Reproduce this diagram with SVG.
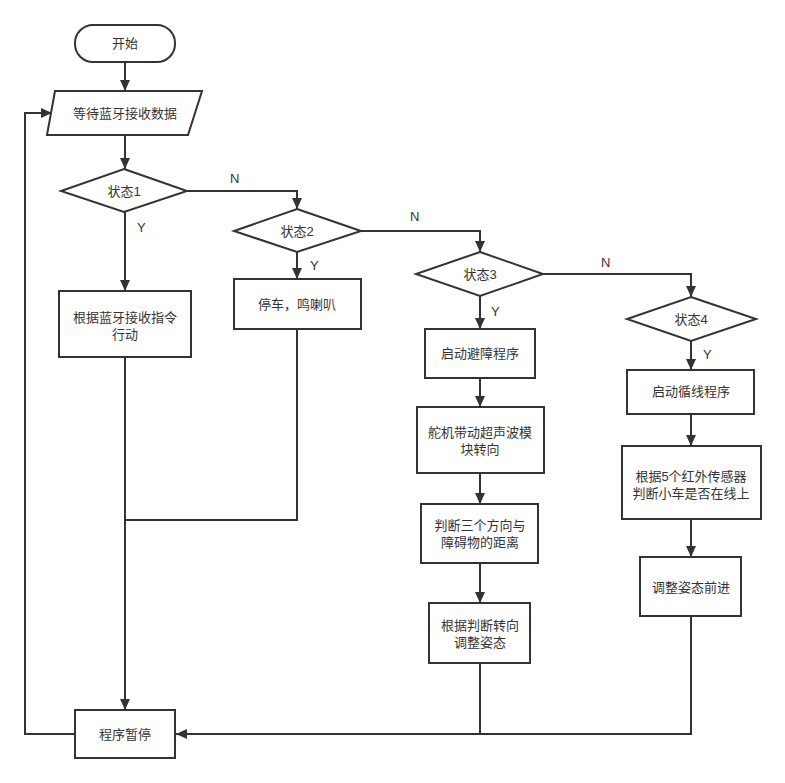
<svg xmlns="http://www.w3.org/2000/svg" width="785" height="783" viewBox="0 0 785 783">
<defs>
<marker id="arr" markerUnits="userSpaceOnUse" markerWidth="11" markerHeight="10" refX="11" refY="5" orient="auto">
<path d="M0,0 L11,5 L0,10 Z" fill="#333"/>
</marker>
<style>
.s{fill:#fff;stroke:#333;stroke-width:2}
.c{fill:none;stroke:#333;stroke-width:2}
.t{font-family:"Liberation Sans","Noto Sans CJK SC",sans-serif;font-size:13px;fill:#333;text-anchor:middle}
.l{font-family:"Liberation Sans","Noto Sans CJK SC",sans-serif;font-size:13px;fill:#333}
</style>
</defs>
<rect width="785" height="783" fill="#fff"/>
<g id="connectors">
<path class="c" d="M125,62 V91" marker-end="url(#arr)"/>
<path class="c" d="M125,135 V169" marker-end="url(#arr)"/>
<path class="c" d="M125,212 V291" marker-end="url(#arr)"/>
<path class="c" d="M187,191 H297 V209" marker-end="url(#arr)"/>
<path class="c" d="M297,252 V279" marker-end="url(#arr)"/>
<path class="c" d="M361,231 H480 V252" marker-end="url(#arr)"/>
<path class="c" d="M480,296 V329" marker-end="url(#arr)"/>
<path class="c" d="M480,378 V407" marker-end="url(#arr)"/>
<path class="c" d="M480,473 V504" marker-end="url(#arr)"/>
<path class="c" d="M480,563 V603" marker-end="url(#arr)"/>
<path class="c" d="M543,274 H691 V297" marker-end="url(#arr)"/>
<path class="c" d="M691,341 V370" marker-end="url(#arr)"/>
<path class="c" d="M691,414 V446" marker-end="url(#arr)"/>
<path class="c" d="M691,519 V557" marker-end="url(#arr)"/>
<path class="c" d="M125,357 V710" marker-end="url(#arr)"/>
<path class="c" d="M297,329 V520 H125"/>
<path class="c" d="M480,663 V734"/>
<path class="c" d="M691,616 V734 H176" marker-end="url(#arr)"/>
<path class="c" d="M75,734 H25 V113 H52" marker-end="url(#arr)"/>
<text class="l" x="230" y="183">N</text>
<text class="l" x="137" y="232">Y</text>
<text class="l" x="410" y="221">N</text>
<text class="l" x="310" y="270">Y</text>
<text class="l" x="601" y="267">N</text>
<text class="l" x="491" y="316">Y</text>
<text class="l" x="703" y="359">Y</text>
</g>
<g id="start">
<rect class="s" x="75" y="25" width="100" height="37" rx="18" ry="18"/>
<text class="t" x="125" y="48">开始</text>
</g>
<g id="wait">
<polygon class="s" points="55,91 202,91 188,135 47,135"/>
<text class="t" x="125" y="118">等待蓝牙接收数据</text>
</g>
<g id="state1">
<polygon class="s" points="124,169 187,191 124,212 61,191"/>
<text class="t" x="124" y="196">状态1</text>
</g>
<g id="act1">
<rect class="s" x="59" y="291" width="132" height="66"/>
<text class="t" x="125" y="322">根据蓝牙接收指令</text>
<text class="t" x="125" y="339">行动</text>
</g>
<g id="state2">
<polygon class="s" points="297,209 361,231 297,252 234,231"/>
<text class="t" x="297" y="236">状态2</text>
</g>
<g id="act2">
<rect class="s" x="234" y="279" width="127" height="50"/>
<text class="t" x="297" y="309">停车，鸣喇叭</text>
</g>
<g id="state3">
<polygon class="s" points="480,252 543,274 480,296 416,274"/>
<text class="t" x="480" y="279">状态3</text>
</g>
<g id="obst1">
<rect class="s" x="425" y="329" width="110" height="49"/>
<text class="t" x="480" y="358">启动避障程序</text>
</g>
<g id="obst2">
<rect class="s" x="417" y="407" width="127" height="66"/>
<text class="t" x="480" y="437">舵机带动超声波模</text>
<text class="t" x="480" y="454">块转向</text>
</g>
<g id="obst3">
<rect class="s" x="421" y="504" width="117" height="59"/>
<text class="t" x="480" y="530">判断三个方向与</text>
<text class="t" x="480" y="547">障碍物的距离</text>
</g>
<g id="obst4">
<rect class="s" x="429" y="603" width="101" height="60"/>
<text class="t" x="480" y="630">根据判断转向</text>
<text class="t" x="480" y="647">调整姿态</text>
</g>
<g id="state4">
<polygon class="s" points="691,297 756,319 691,341 627,319"/>
<text class="t" x="691" y="324">状态4</text>
</g>
<g id="line1">
<rect class="s" x="627" y="370" width="127" height="44"/>
<text class="t" x="691" y="396">启动循线程序</text>
</g>
<g id="line2">
<rect class="s" x="622" y="446" width="139" height="73"/>
<text class="t" x="691" y="481">根据5个红外传感器</text>
<text class="t" x="691" y="498">判断小车是否在线上</text>
</g>
<g id="line3">
<rect class="s" x="640" y="557" width="101" height="59"/>
<text class="t" x="691" y="592">调整姿态前进</text>
</g>
<g id="pause">
<rect class="s" x="75" y="710" width="100" height="48"/>
<text class="t" x="125" y="739">程序暂停</text>
</g>
</svg>
